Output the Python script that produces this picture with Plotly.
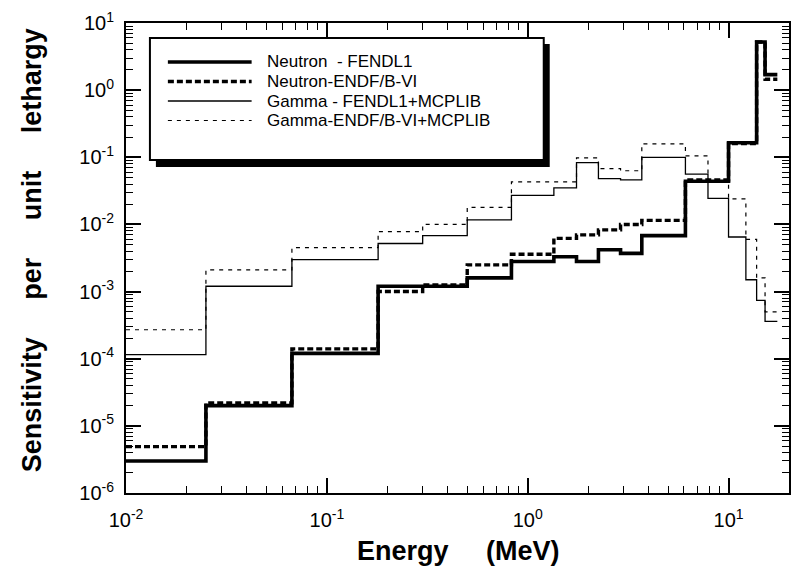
import plotly.graph_objects as go

# Energy group boundaries (MeV)
edges = [0.01, 0.025, 0.067, 0.18, 0.3, 0.5, 0.83, 1.35, 1.75, 2.25, 2.9,
         3.7, 6.1, 7.9, 10.0, 12.2, 13.8, 15.2, 17.5]

# Sensitivity per unit lethargy, one value per group
neutron_fendl = [3.0e-6, 2.0e-5, 1.2e-4, 1.2e-3, 1.2e-3, 1.6e-3, 2.8e-3, 3.3e-3,
                 2.8e-3, 4.2e-3, 3.7e-3, 6.8e-3, 4.4e-2, 4.4e-2, 0.165, 0.165,
                 5.2, 1.7]
neutron_endf = [4.9e-6, 2.2e-5, 1.4e-4, 1.0e-3, 1.25e-3, 2.5e-3, 3.6e-3, 6.2e-3,
                7.0e-3, 8.3e-3, 1.0e-2, 1.15e-2, 4.6e-2, 4.6e-2, 0.16, 0.16,
                5.2, 1.45]
gamma_fendl = [1.15e-4, 1.2e-3, 3.0e-3, 5.2e-3, 6.8e-3, 1.17e-2, 2.7e-2, 3.5e-2,
               8.3e-2, 4.8e-2, 4.6e-2, 0.1, 5.6e-2, 2.45e-2, 6.5e-3, 1.5e-3,
               7.4e-4, 3.6e-4]
gamma_endf = [2.7e-4, 2.1e-3, 4.5e-3, 7.8e-3, 1.0e-2, 1.8e-2, 4.3e-2, 4.3e-2,
              9.8e-2, 6.8e-2, 6.3e-2, 0.158, 0.105, 4.5e-2, 2.4e-2, 6.0e-3,
              1.6e-3, 5.0e-4]

series_names = ["Neutron  - FENDL1", "Neutron-ENDF/B-VI",
                "Gamma - FENDL1+MCPLIB", "Gamma-ENDF/B-VI+MCPLIB"]

x_tick_vals = [0.01, 0.1, 1, 10]
x_tick_text = ["10<sup>-2</sup>", "10<sup>-1</sup>", "10<sup>0</sup>", "10<sup>1</sup>"]
y_tick_vals = [1e-6, 1e-5, 1e-4, 1e-3, 1e-2, 1e-1, 1, 10]
y_tick_text = ["10<sup>-6</sup>", "10<sup>-5</sup>", "10<sup>-4</sup>", "10<sup>-3</sup>",
               "10<sup>-2</sup>", "10<sup>-1</sup>", "10<sup>0</sup>", "10<sup>1</sup>"]

FONT = "Liberation Sans, Arial, Helvetica, sans-serif"
W, H = 791, 574
L, R, T, B = 126, 0, 23, 81
PW, PH = W - L - R, H - T - B


def px(x):
    return (x - L) / PW


def py(y):
    return (H - B - y) / PH


def steps(vals):
    return list(vals) + [vals[-1]]


styles = [
    (gamma_endf, series_names[3], dict(color="black", width=1.2, dash="4px,5px")),
    (gamma_fendl, series_names[2], dict(color="black", width=1.3)),
    (neutron_fendl, series_names[0], dict(color="black", width=3.6)),
    (neutron_endf, series_names[1], dict(color="black", width=3.4, dash="6px,3px")),
]

fig = go.Figure()
for vals, name, line in styles:
    fig.add_trace(go.Scatter(x=edges, y=steps(vals), mode="lines", line_shape="hv",
                             line=line, name=name, showlegend=False))

minor_x = [m * 10 ** e for e in range(-2, 2) for m in range(2, 10) if m * 10 ** e < 20]
minor_y = [m * 10 ** e for e in range(-6, 1) for m in range(2, 10)]

axis_common = dict(
    type="log", showline=True, linecolor="black", linewidth=2, mirror="allticks",
    ticks="inside", ticklen=15, tickwidth=1.5, tickcolor="black",
    showgrid=False, zeroline=False,
    tickfont=dict(family=FONT, size=20, color="black"),
)

fig.update_xaxes(**axis_common, range=[-2, 1.30103], tickmode="array",
                 tickvals=x_tick_vals, ticktext=x_tick_text, ticklabelstandoff=8,
                 minor=dict(tickmode="array", tickvals=minor_x, ticks="inside",
                            ticklen=7, tickwidth=1.2, tickcolor="black", showgrid=False))
fig.update_yaxes(**axis_common, range=[-6, 1], tickmode="array",
                 tickvals=y_tick_vals, ticktext=y_tick_text, ticklabelstandoff=6,
                 minor=dict(tickmode="array", tickvals=minor_y, ticks="inside",
                            ticklen=7, tickwidth=1.2, tickcolor="black", showgrid=False))

sp = "\u00a0" * 5
annotations = [
    dict(text="<b>Energy" + sp + "(MeV)</b>", x=px(460), y=py(551), xref="paper", yref="paper",
         showarrow=False, xanchor="center", yanchor="middle",
         font=dict(family=FONT, size=27, color="black")),
    dict(text="<b>Sensitivity" + sp + "per" + sp + "unit" + sp + "lethargy</b>",
         x=px(32), y=py(250), xref="paper", yref="paper", textangle=-90,
         showarrow=False, xanchor="center", yanchor="middle",
         font=dict(family=FONT, size=27, color="black")),
]

# Legend panel with drop shadow
shapes = [
    dict(type="rect", xref="paper", yref="paper", x0=px(156), x1=px(551), y0=py(44), y1=py(167),
         fillcolor="black", line=dict(width=0)),
    dict(type="rect", xref="paper", yref="paper", x0=px(150), x1=px(545), y0=py(38), y1=py(160),
         fillcolor="white", line=dict(color="black", width=2)),
]
legend_rows = [62, 81.5, 101, 120.5]
legend_lines = [
    dict(color="black", width=3.6),
    dict(color="black", width=3.4, dash="6px,3px"),
    dict(color="black", width=1.3),
    dict(color="black", width=1.2, dash="4px,5px"),
]
for yrow, name, ln in zip(legend_rows, series_names, legend_lines):
    shapes.append(dict(type="line", xref="paper", yref="paper", x0=px(168), x1=px(252),
                       y0=py(yrow), y1=py(yrow), line=ln))
    annotations.append(dict(text=name.replace(" ", "\u00a0"), x=px(265), y=py(yrow),
                            xref="paper", yref="paper", showarrow=False,
                            xanchor="left", yanchor="middle",
                            font=dict(family=FONT, size=17, color="black")))

fig.update_layout(
    width=W, height=H, autosize=False,
    margin=dict(l=L, r=R, t=T, b=B, pad=0),
    paper_bgcolor="white", plot_bgcolor="white",
    shapes=shapes, annotations=annotations, showlegend=False,
)

fig.write_html("out.html")
